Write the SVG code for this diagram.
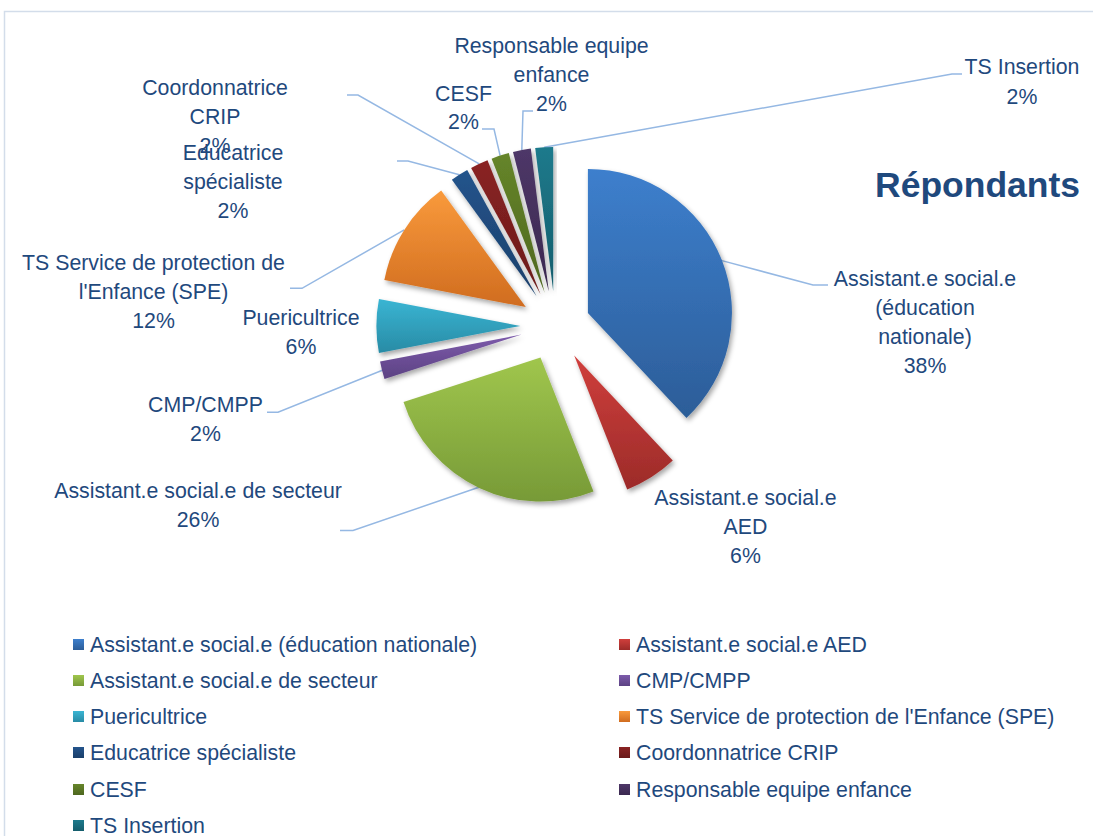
<svg xmlns="http://www.w3.org/2000/svg" width="1093" height="836" viewBox="0 0 1093 836">
<style>
.lbl{font-family:"Liberation Sans",Arial,sans-serif;font-size:21.3px;fill:#1f497d;text-anchor:middle}
.leg{font-family:"Liberation Sans",Arial,sans-serif;font-size:21.3px;fill:#1f497d}
.title{font-family:"Liberation Sans",Arial,sans-serif;font-size:35.5px;font-weight:bold;fill:#1f497d}
.lead{fill:none;stroke:#95b8e3;stroke-width:1.5}
</style>
<defs>
<linearGradient id="gBlue" x1="0" y1="0" x2="0" y2="1"><stop offset="0" stop-color="#3d7fcd"/><stop offset="1" stop-color="#2c5d98"/></linearGradient>
<linearGradient id="gRed" x1="0" y1="0" x2="0" y2="1"><stop offset="0" stop-color="#d03f3c"/><stop offset="1" stop-color="#9c2b29"/></linearGradient>
<linearGradient id="gGreen" x1="0" y1="0" x2="0" y2="1"><stop offset="0" stop-color="#a0c64d"/><stop offset="1" stop-color="#779a37"/></linearGradient>
<linearGradient id="gPurple" x1="0" y1="0" x2="0" y2="1"><stop offset="0" stop-color="#7d5bab"/><stop offset="1" stop-color="#5c4283"/></linearGradient>
<linearGradient id="gCyan" x1="0" y1="0" x2="0" y2="1"><stop offset="0" stop-color="#3ab5d3"/><stop offset="1" stop-color="#288ba5"/></linearGradient>
<linearGradient id="gOrange" x1="0" y1="0" x2="0" y2="1"><stop offset="0" stop-color="#f99a3c"/><stop offset="1" stop-color="#d06c1f"/></linearGradient>
<linearGradient id="gEdu" x1="0" y1="0" x2="0" y2="1"><stop offset="0" stop-color="#24548c"/><stop offset="1" stop-color="#1a3f6a"/></linearGradient>
<linearGradient id="gCrip" x1="0" y1="0" x2="0" y2="1"><stop offset="0" stop-color="#8a2323"/><stop offset="1" stop-color="#6a1a1a"/></linearGradient>
<linearGradient id="gCesf" x1="0" y1="0" x2="0" y2="1"><stop offset="0" stop-color="#66852a"/><stop offset="1" stop-color="#4e671f"/></linearGradient>
<linearGradient id="gResp" x1="0" y1="0" x2="0" y2="1"><stop offset="0" stop-color="#4e3768"/><stop offset="1" stop-color="#3a284f"/></linearGradient>
<linearGradient id="gTsi" x1="0" y1="0" x2="0" y2="1"><stop offset="0" stop-color="#1d7a8c"/><stop offset="1" stop-color="#155d6c"/></linearGradient>
<filter id="sh" x="-20%" y="-20%" width="140%" height="140%"><feDropShadow dx="2" dy="3" stdDeviation="2.5" flood-color="#000" flood-opacity="0.35"/></filter>
</defs>
<rect x="0" y="0" width="1093" height="836" fill="#fff"/>
<rect x="4.5" y="11.5" width="1100" height="900" fill="none" stroke="#d3ddea" stroke-width="1.5"/>

<text class="title" x="875" y="197">Répondants</text>

<g id="connectors">
<polyline class="lead" points="828,285 813,285 721,260.4"/>
<polyline class="lead" points="340,530.5 353,530.5 479.6,487"/>
<polyline class="lead" points="267,412.3 278,412.3 383,370"/>
<polyline class="lead" points="290,288.3 302,288.3 404.2,229.9"/>
<polyline class="lead" points="397,161 408,161 459.4,174.7"/>
<polyline class="lead" points="347,95 358,95 479.2,163.9"/>
<polyline class="lead" points="482,129 494,129 500.1,155.6"/>
<polyline class="lead" points="533,111 523,111 521.8,150"/>
<polyline class="lead" points="962,74 952,74 544.2,147.3"/>
</g>

<g id="slice-asn">
<path d="M587.9,313 L587.9,169 A144,144 0 0 1 686.5,418 Z" fill="url(#gBlue)" filter="url(#sh)"/>
<text class="lbl" x="925" y="286">Assistant.e social.e</text>
<text class="lbl" x="925" y="315">(éducation</text>
<text class="lbl" x="925" y="344">nationale)</text>
<text class="lbl" x="925" y="373">38%</text>
</g>
<g id="slice-aed">
<path d="M574.2,355.5 L672.8,460.5 A144,144 0 0 1 627.2,489.4 Z" fill="url(#gRed)" filter="url(#sh)"/>
<text class="lbl" x="745.5" y="505">Assistant.e social.e</text>
<text class="lbl" x="745.5" y="534">AED</text>
<text class="lbl" x="745.5" y="563">6%</text>
</g>
<g id="slice-secteur">
<path d="M540.5,357.6 L593.5,491.5 A144,144 0 0 1 403.5,402.1 Z" fill="url(#gGreen)" filter="url(#sh)"/>
<text class="lbl" x="198" y="498">Assistant.e social.e de secteur</text>
<text class="lbl" x="198" y="527">26%</text>
</g>
<g id="slice-cmp">
<path d="M521.5,334.6 L384.5,379.1 A144,144 0 0 1 380.05,361.6 Z" fill="url(#gPurple)" filter="url(#sh)"/>
<text class="lbl" x="205.5" y="412">CMP/CMPP</text>
<text class="lbl" x="205.5" y="441">2%</text>
</g>
<g id="slice-puer">
<path d="M520.4,325.9 L378.95,352.9 A144,144 0 0 1 378.95,298.9 Z" fill="url(#gCyan)" filter="url(#sh)"/>
<text class="lbl" x="301" y="325">Puericultrice</text>
<text class="lbl" x="301" y="354">6%</text>
</g>
<g id="slice-spe">
<path d="M525.8,307.1 L384.35,280.1 A144,144 0 0 1 441.2,190.6 Z" fill="url(#gOrange)" filter="url(#sh)"/>
<text class="lbl" x="153.5" y="270">TS Service de protection de</text>
<text class="lbl" x="153.5" y="299">l'Enfance (SPE)</text>
<text class="lbl" x="153.5" y="328">12%</text>
</g>
<g id="slice-edu">
<path d="M536.6,296.3 L451.9,179.8 A144,144 0 0 1 467.2,170.1 Z" fill="url(#gEdu)" filter="url(#sh)"/>
</g>
<g id="slice-crip">
<path d="M540.5,294.2 L471.1,168 A144,144 0 0 1 487.5,160.3 Z" fill="url(#gCrip)" filter="url(#sh)"/>
<text class="lbl" x="215" y="95">Coordonnatrice</text>
<text class="lbl" x="215" y="124">CRIP</text>
<text class="lbl" x="215" y="153">2%</text>
</g>
<g id="slice-edu-label">
<text class="lbl" x="233" y="160">Educatrice</text>
<text class="lbl" x="233" y="189">spécialiste</text>
<text class="lbl" x="233" y="218">2%</text>
</g>
<g id="slice-cesf">
<path d="M544.6,292.6 L491.6,158.7 A144,144 0 0 1 508.8,153.1 Z" fill="url(#gCesf)" filter="url(#sh)"/>
<text class="lbl" x="463.5" y="101">CESF</text>
<text class="lbl" x="463.5" y="129">2%</text>
</g>
<g id="slice-resp">
<path d="M548.8,291.5 L513,152 A144,144 0 0 1 530.8,148.6 Z" fill="url(#gResp)" filter="url(#sh)"/>
<text class="lbl" x="551.5" y="53">Responsable equipe</text>
<text class="lbl" x="551.5" y="82">enfance</text>
<text class="lbl" x="551.5" y="111">2%</text>
</g>
<g id="slice-tsi">
<path d="M553.2,291 L535.2,148.1 A144,144 0 0 1 553.2,147 Z" fill="url(#gTsi)" filter="url(#sh)"/>
<text class="lbl" x="1022" y="74">TS Insertion</text>
<text class="lbl" x="1022" y="104">2%</text>
</g>

<g id="legend">
<g id="leg-asn"><rect x="73" y="639" width="11" height="11" fill="url(#gBlue)"/><text class="leg" x="90" y="652">Assistant.e social.e (éducation nationale)</text></g>
<g id="leg-aed"><rect x="619" y="639" width="11" height="11" fill="url(#gRed)"/><text class="leg" x="636" y="652">Assistant.e social.e AED</text></g>
<g id="leg-secteur"><rect x="73" y="675" width="11" height="11" fill="url(#gGreen)"/><text class="leg" x="90" y="688">Assistant.e social.e de secteur</text></g>
<g id="leg-cmp"><rect x="619" y="675" width="11" height="11" fill="url(#gPurple)"/><text class="leg" x="636" y="688">CMP/CMPP</text></g>
<g id="leg-puer"><rect x="73" y="711" width="11" height="11" fill="url(#gCyan)"/><text class="leg" x="90" y="724">Puericultrice</text></g>
<g id="leg-spe"><rect x="619" y="711" width="11" height="11" fill="url(#gOrange)"/><text class="leg" x="636" y="724">TS Service de protection de l'Enfance (SPE)</text></g>
<g id="leg-edu"><rect x="73" y="747" width="11" height="11" fill="url(#gEdu)"/><text class="leg" x="90" y="760">Educatrice spécialiste</text></g>
<g id="leg-crip"><rect x="619" y="747" width="11" height="11" fill="url(#gCrip)"/><text class="leg" x="636" y="760">Coordonnatrice CRIP</text></g>
<g id="leg-cesf"><rect x="73" y="784" width="11" height="11" fill="url(#gCesf)"/><text class="leg" x="90" y="797">CESF</text></g>
<g id="leg-resp"><rect x="619" y="784" width="11" height="11" fill="url(#gResp)"/><text class="leg" x="636" y="797">Responsable equipe enfance</text></g>
<g id="leg-tsi"><rect x="73" y="820" width="11" height="11" fill="url(#gTsi)"/><text class="leg" x="90" y="833">TS Insertion</text></g>
</g>
</svg>
